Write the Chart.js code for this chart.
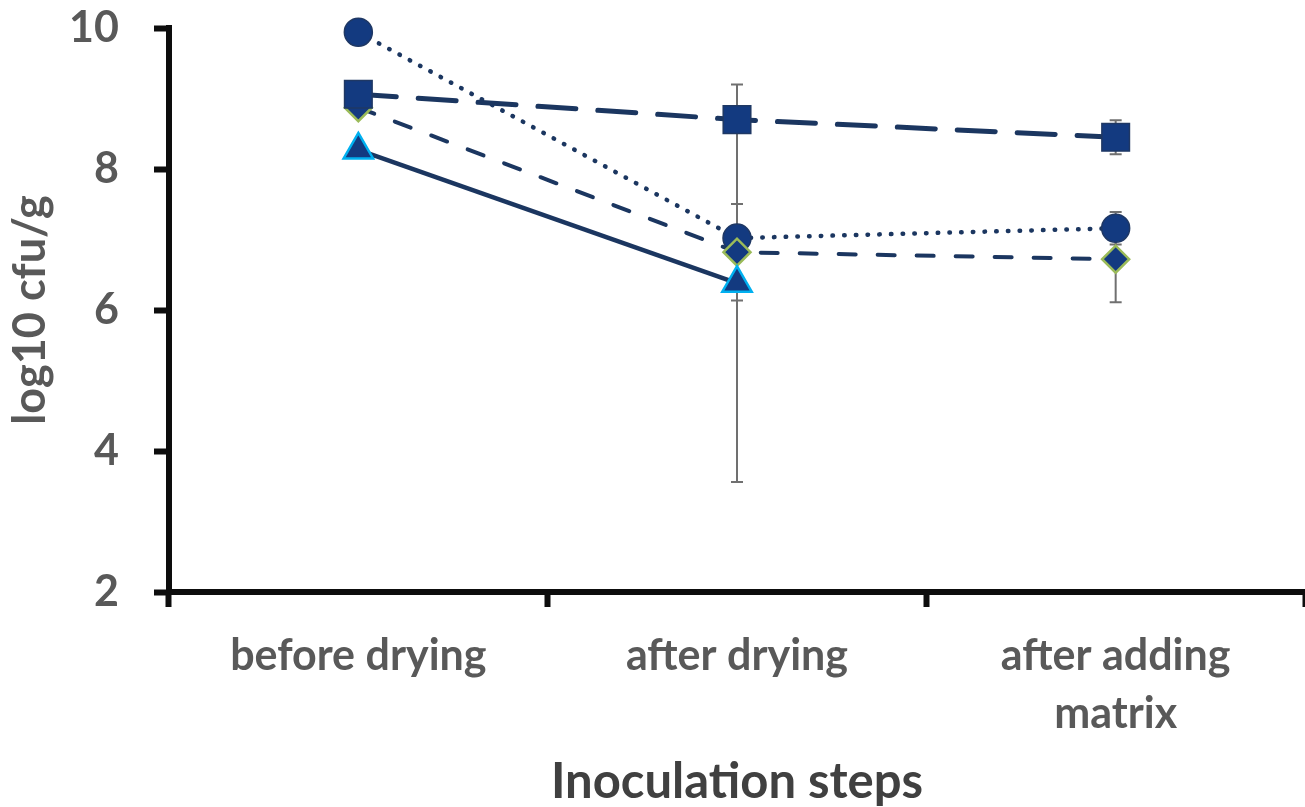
<!DOCTYPE html>
<html>
<head>
<meta charset="utf-8">
<script src="https://cdn.jsdelivr.net/npm/chart.js@4/dist/chart.umd.min.js"></script>
<style>
  html, body { margin: 0; padding: 0; background: #fff; }
  #wrap { width: 1305px; height: 807px; }
</style>
</head>
<body>
<div id="wrap"><canvas id="myChart"></canvas></div>
<script>
// data
const categories = ['before drying', 'after drying', ['after adding', 'matrix']];
const yTicks = [2, 4, 6, 8, 10];

const squareValues = [9.06, 8.70, 8.45];
const squareErr = [0, 0, 0.24];
const triangleValues = [8.27, 6.38, null];
const triangleErr = [0, 2.82, 0];
const diamondValues = [8.87, 6.82, 6.72];
const diamondErr = [0, 0.685, 0.61];
const circleValues = [9.94, 7.02, 7.16];
const circleErr = [0, 0, 0.23];

const navyLine = '#1b3660';
const navyFill = '#133a80';
const axisColor = '#0d0d0d';
const tickFont = { family: 'Lato', weight: 'bold', size: 43 };

// error bars, drawn under the markers
const errorBars = {
  id: 'errorBars',
  beforeDatasetsDraw(chart) {
    const c = chart.ctx;
    const xs = chart.scales.x;
    const ys = chart.scales.y;
    c.save();
    c.strokeStyle = '#707070';
    c.lineWidth = 2;
    chart.data.datasets.forEach(ds => {
      ds.data.forEach((v, i) => {
        const e = ds.errors[i];
        if (v === null || !e) return;
        const x = xs.getPixelForValue(i);
        const top = ys.getPixelForValue(v + e);
        const bot = ys.getPixelForValue(v - e);
        c.beginPath();
        c.moveTo(x, top); c.lineTo(x, bot);
        c.moveTo(x - 6, top); c.lineTo(x + 6, top);
        c.moveTo(x - 6, bot); c.lineTo(x + 6, bot);
        c.stroke();
      });
    });
    c.restore();
  }
};

const ctx = document.getElementById('myChart');

new Chart(ctx, {
  type: 'line',
  data: {
    labels: categories,
    datasets: [
      {
        label: 'square',
        data: squareValues,
        errors: squareErr,
        clip: false,
        borderColor: navyLine,
        borderWidth: 5,
        borderDash: [38, 22],
        borderCapStyle: 'round',
        pointStyle: 'rect',
        pointRadius: 19.5,
        pointBackgroundColor: navyFill,
        pointBorderColor: '#1f3864',
        pointBorderWidth: 1.5
      },
      {
        label: 'triangle',
        data: triangleValues,
        errors: triangleErr,
        clip: false,
        borderColor: navyLine,
        borderWidth: 4.5,
        pointStyle: 'triangle',
        pointRadius: 17,
        pointBackgroundColor: navyFill,
        pointBorderColor: '#00b0f0',
        pointBorderWidth: 2.5
      },
      {
        label: 'diamond',
        data: diamondValues,
        errors: diamondErr,
        clip: false,
        borderColor: navyLine,
        borderWidth: 4,
        borderDash: [17, 22],
        borderCapStyle: 'round',
        pointStyle: 'rectRot',
        pointRadius: 13.5,
        pointBackgroundColor: navyFill,
        pointBorderColor: '#9bbb59',
        pointBorderWidth: 2.5
      },
      {
        label: 'circle',
        data: circleValues,
        errors: circleErr,
        clip: false,
        borderColor: navyLine,
        borderWidth: 4.5,
        borderDash: [0.5, 11.2],
        borderCapStyle: 'round',
        pointStyle: 'circle',
        pointRadius: 14,
        pointBackgroundColor: navyFill,
        pointBorderColor: '#1f3864',
        pointBorderWidth: 1.5
      }
    ]
  },
  options: {
    responsive: true,
    maintainAspectRatio: false,
    animation: false,
    layout: { autoPadding: false, padding: { top: 28, right: 0, left: 0, bottom: 0 } },
    plugins: {
      legend: { display: false },
      tooltip: { enabled: false }
    },
    elements: { line: { tension: 0 } },
    scales: {
      x: {
        offset: true,
        afterFit(scale) {
          scale.height = 215;
          scale.paddingLeft = 0;
          scale.paddingRight = 0;
        },
        grid: {
          offset: true,
          drawOnChartArea: false,
          drawTicks: true,
          tickLength: 15,
          tickWidth: 6,
          tickColor: axisColor
        },
        border: { display: true, color: axisColor, width: 6 },
        ticks: {
          color: '#595959',
          font: { ...tickFont, lineHeight: 1.35 },
          padding: 20,
          maxRotation: 0,
          autoSkip: false
        },
        title: {
          display: true,
          text: 'Inoculation steps',
          color: '#404040',
          font: { family: 'Lato', weight: 'bold', size: 49, lineHeight: 1.0 },
          padding: { top: 0, bottom: 0 }
        }
      },
      y: {
        min: 2,
        max: 10,
        afterFit(scale) {
          scale.width = 169;
          scale.paddingTop = 0;
          scale.paddingBottom = 0;
        },
        afterBuildTicks(scale) { scale.ticks = yTicks.map(v => ({ value: v })); },
        grid: {
          drawOnChartArea: false,
          drawTicks: true,
          tickLength: 15,
          tickWidth: 6,
          tickColor: axisColor
        },
        border: { display: true, color: axisColor, width: 6 },
        ticks: {
          color: '#595959',
          font: tickFont,
          padding: 35
        },
        title: {
          display: true,
          text: 'log10 cfu/g',
          color: '#595959',
          font: { family: 'Lato', weight: 'bold', size: 45, lineHeight: 1.0 },
          padding: { top: 8, bottom: 0 }
        }
      }
    }
  },
  plugins: [errorBars]
});
</script>
</body>
</html>
